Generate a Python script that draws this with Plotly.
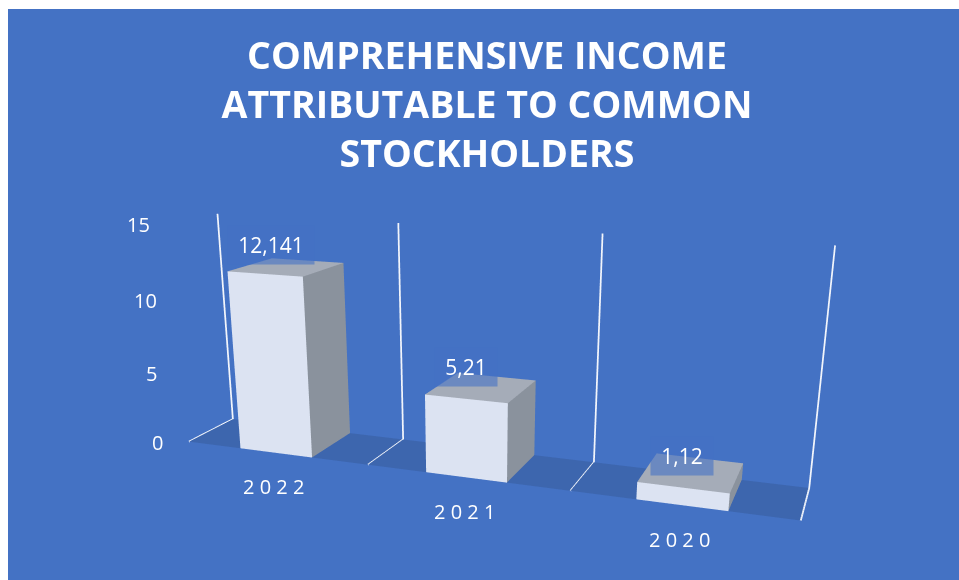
import plotly.graph_objects as go

# Chart data
categories = ["2022", "2021", "2020"]
values = [12.141, 5.21, 1.12]
value_labels = ["12,141", "5,21", "1,12"]
ticks = [0, 5, 10, 15]
title_lines = ["COMPREHENSIVE INCOME", "ATTRIBUTABLE TO COMMON", "STOCKHOLDERS"]

# Scene ranges and bar footprint inside each category slot
X_RANGE, Y_RANGE, Z_RANGE = [0, 3], [-0.02, 1.02], [-0.3, 15.2]
BAR_LEFT, BAR_RIGHT = 0.3, 0.7

# Offsets and box sizes of the value labels, in pixels
label_xshift = [-11, -9, 0]
label_yshift = [20, 17, 12]
label_box_width = [84, 60, 60]
LABEL_BOX_HEIGHT = 36

# Colours
BACKGROUND = "#4472C4"
FLOOR = "#3D66AE"
FRONT, SIDE, TOP = "#DCE3F2", "#8A929D", "#A5ACB8"
GRID = "#F2F5FB"
LABEL_FILL = "rgba(68,114,196,0.6)"

# The scene is taller than the visible page, which gives a longer lens;
# only the top 580 px are kept on screen.
FIG_W, FIG_H, PAGE_H = 959, 930, 580
FLAT = dict(ambient=1, diffuse=0, specular=0, fresnel=0)
FONT = dict(family="Open Sans", size=20, color="white")
VALUE_FONT = dict(FONT, size=21)


def page_y(pixels):
    return 1 - pixels / FIG_H


fig = go.Figure()

# Dark strip on the floor, running under all the bars
fig.add_trace(go.Mesh3d(
    x=[0, 3, 3, 0], y=[0, 0, 1, 1], z=[0, 0, 0, 0],
    i=[0, 0], j=[1, 2], k=[2, 3],
    color=FLOOR, flatshading=True, lighting=FLAT, hoverinfo="skip",
))

# One box per category; only the front, right and top faces can be seen
for slot, value in enumerate(values):
    x0, x1 = slot + BAR_LEFT, slot + BAR_RIGHT
    fig.add_trace(go.Mesh3d(
        x=[x0, x1, x1, x0, x0, x1, x1, x0],
        y=[0, 0, 1, 1, 0, 0, 1, 1],
        z=[0, 0, 0, 0, value, value, value, value],
        i=[0, 0, 1, 1, 4, 4], j=[1, 5, 2, 6, 5, 6], k=[5, 4, 6, 5, 6, 7],
        facecolor=[FRONT] * 2 + [SIDE] * 2 + [TOP] * 2,
        flatshading=True, lighting=FLAT, hoverinfo="skip",
    ))

# Category separators: across the floor, then up the back wall
for boundary in range(len(categories) + 1):
    fig.add_trace(go.Scatter3d(
        x=[boundary] * 3, y=[0, 1, 1], z=[0, 0, ticks[-1]],
        mode="lines", line=dict(color=GRID, width=3.5),
        hoverinfo="skip", showlegend=False,
    ))

scene_labels = [
    dict(x=0, y=0, z=t, text=str(t), showarrow=False, xshift=-31, yshift=-1, font=FONT)
    for t in ticks
]
for slot, (cat, value, label) in enumerate(zip(categories, values, value_labels)):
    scene_labels.append(dict(
        x=slot + 0.5, y=0, z=0, text=" ".join(cat), showarrow=False,
        xshift=-2, yshift=-34, font=FONT,
    ))
    scene_labels.append(dict(
        x=slot + 0.45, y=0.6, z=value, text=label, showarrow=False,
        xshift=label_xshift[slot], yshift=label_yshift[slot], font=VALUE_FONT,
        bgcolor=LABEL_FILL, width=label_box_width[slot], height=LABEL_BOX_HEIGHT,
    ))

hidden_axis = dict(visible=False)
fig.update_layout(
    width=FIG_W, height=FIG_H, autosize=False,
    margin=dict(l=0, r=0, t=0, b=0),
    paper_bgcolor="white", showlegend=False,
    title=dict(
        text="<br>".join(title_lines), x=487 / FIG_W, xanchor="center",
        y=page_y(69), yanchor="top",
        font=dict(family="Open Sans", size=37.5, color="white", weight="bold"),
    ),
    shapes=[dict(
        type="rect", xref="paper", yref="paper", x0=8 / FIG_W, x1=1, y0=0, y1=page_y(9),
        fillcolor=BACKGROUND, line_width=0, layer="below",
    )],
    scene=dict(
        xaxis=dict(hidden_axis, range=X_RANGE),
        yaxis=dict(hidden_axis, range=Y_RANGE),
        zaxis=dict(hidden_axis, range=Z_RANGE),
        bgcolor="rgba(0,0,0,0)",
        aspectmode="manual",
        aspectratio=dict(x=0.8893, y=0.1269, z=0.3327),
        camera=dict(
            eye=dict(x=0.5159, y=-1.4101, z=0.3698),
            center=dict(x=0.0151, y=-0.0488, z=-0.1441),
            up=dict(x=-0.1169, y=0.3128, z=0.9426),
            projection=dict(type="perspective"),
        ),
        annotations=scene_labels,
    ),
)

# Keep the page at its 580 px height
crop = (
    "var g=document.getElementById('{plot_id}');"
    f"g.parentElement.style.height='{PAGE_H}px';"
    "g.parentElement.style.overflow='hidden';"
    "document.documentElement.style.overflow='hidden';"
)
fig.write_html("out.html", post_script=crop, config=dict(displayModeBar=False))
